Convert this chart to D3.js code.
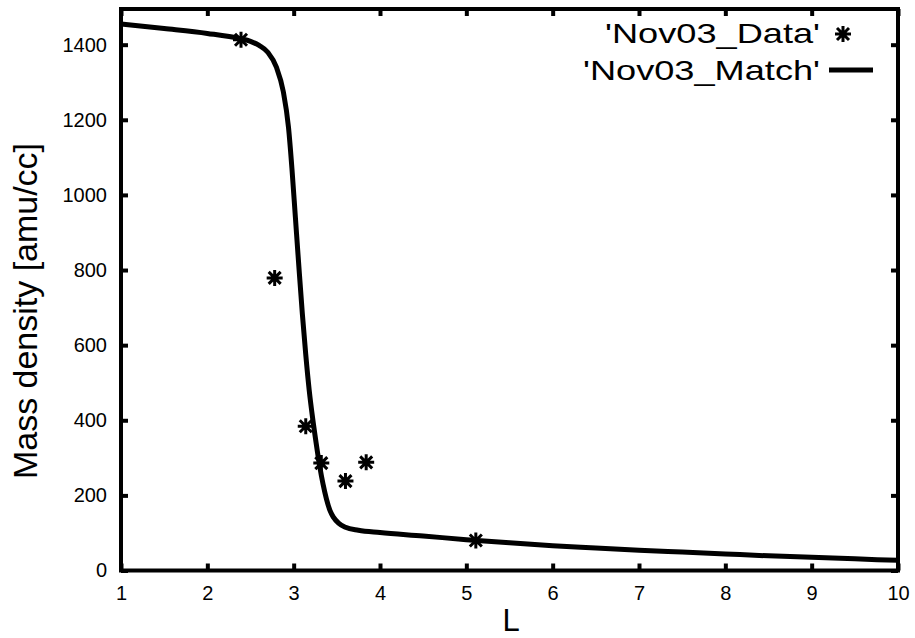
<!DOCTYPE html>
<html>
<head>
<meta charset="utf-8">
<script src="https://cdn.jsdelivr.net/npm/d3@7"></script>
<style>
  html, body { margin: 0; padding: 0; background: #fff; }
  svg { display: block; }
  text { font-family: "Liberation Sans", Arial, Helvetica, sans-serif; fill: #000; }
</style>
</head>
<body>
<svg id="chart" width="915" height="638"></svg>
<script>
// Measured data points (L, mass density)
const dataL = [2.39, 2.78, 3.14, 3.32, 3.60, 3.84, 5.11];
const dataRho = [1413, 779, 384, 286, 238, 288, 80];

// Model curve samples (L, mass density)
const matchL = [1.0, 1.5, 2.0, 2.38, 2.5, 2.6, 2.7, 2.8, 2.88, 2.94, 2.98, 3.02, 3.06, 3.1, 3.14, 3.18, 3.22, 3.26, 3.3, 3.34, 3.38, 3.42, 3.46, 3.52, 3.6, 3.75, 4.0, 4.5, 5.0, 5.5, 6.0, 6.5, 7.0, 7.5, 8.0, 8.5, 9.0, 9.5, 10.0];
const matchRho = [1455, 1443, 1430, 1416, 1409, 1398, 1380, 1340, 1275, 1180, 1070, 940, 810, 685, 575, 480, 405, 340, 280, 230, 190, 160, 142, 126, 115, 107, 101, 92, 82, 74, 66, 60, 54, 49, 44, 39, 35, 31, 27];

// Axis ticks
const xTicks = [1, 2, 3, 4, 5, 6, 7, 8, 9, 10];
const yTicks = [0, 200, 400, 600, 800, 1000, 1200, 1400];

const legendLabels = ["'Nov03_Data'", "'Nov03_Match'"];

const svg = d3.select("#chart");
const plotLeft = 121, plotRight = 898, plotTop = 9, plotBottom = 570.5;

const x = d3.scaleLinear().domain([1, 10]).range([plotLeft, plotRight]);
const y = d3.scaleLinear().domain([0, 1495]).range([plotBottom, plotTop]);

function styleAxis(g, fs) {
  g.select(".domain").remove();
  g.selectAll(".tick line").attr("stroke", "#000").attr("stroke-width", 4);
  g.selectAll(".tick text").attr("font-size", fs).attr("fill", "#000")
    .style("font-family", "'Liberation Sans', Arial, sans-serif");
}

// Bottom axis with labels, ticks inward
svg.append("g").attr("transform", `translate(0,${plotBottom})`)
  .call(d3.axisBottom(x).tickValues(xTicks).tickSizeInner(-7).tickSizeOuter(0).tickPadding(15).tickFormat(d3.format("d")))
  .call(g => styleAxis(g, 20));

// Top axis, ticks only
svg.append("g").attr("transform", `translate(0,${plotTop})`)
  .call(d3.axisTop(x).tickValues(xTicks).tickSizeInner(-7).tickSizeOuter(0).tickFormat(""))
  .call(g => styleAxis(g, 20));

// Left axis with labels
svg.append("g").attr("transform", `translate(${plotLeft},0)`)
  .call(d3.axisLeft(y).tickValues(yTicks).tickSizeInner(-7).tickSizeOuter(0).tickPadding(14).tickFormat(d3.format("d")))
  .call(g => styleAxis(g, 20));

// Right axis, ticks only
svg.append("g").attr("transform", `translate(${plotRight},0)`)
  .call(d3.axisRight(y).tickValues(yTicks).tickSizeInner(-7).tickSizeOuter(0).tickFormat(""))
  .call(g => styleAxis(g, 20));

// Plot frame
svg.append("rect")
  .attr("x", plotLeft).attr("y", plotTop)
  .attr("width", plotRight - plotLeft).attr("height", plotBottom - plotTop)
  .attr("fill", "none").attr("stroke", "#000").attr("stroke-width", 4);

// Model curve
const line = d3.line().x(d => x(d[0])).y(d => y(d[1])).curve(d3.curveMonotoneX);
svg.append("path")
  .datum(matchL.map((l, i) => [l, matchRho[i]]))
  .attr("d", line)
  .attr("fill", "none").attr("stroke", "#000").attr("stroke-width", 5)
  .attr("stroke-linejoin", "round");

// Asterisk marker
function star(g, cx, cy) {
  const a = 8, b = 6;
  g.append("path")
    .attr("d", `M${cx - a},${cy}H${cx + a}M${cx},${cy - a}V${cy + a}M${cx - b},${cy - b}L${cx + b},${cy + b}M${cx - b},${cy + b}L${cx + b},${cy - b}`)
    .attr("stroke", "#000").attr("stroke-width", 3).attr("fill", "none");
}
const pts = svg.append("g");
dataL.forEach((l, i) => star(pts, x(l), y(dataRho[i])));

// Legend
const legend = svg.append("g");
legend.append("text").attr("x", 820).attr("y", 43).attr("text-anchor", "end")
  .attr("font-size", 28).attr("textLength", 215).attr("lengthAdjust", "spacingAndGlyphs")
  .text(legendLabels[0]);
star(legend, 843, 34);
legend.append("text").attr("x", 820).attr("y", 80).attr("text-anchor", "end")
  .attr("font-size", 28).attr("textLength", 237).attr("lengthAdjust", "spacingAndGlyphs")
  .text(legendLabels[1]);
legend.append("line").attr("x1", 829).attr("x2", 873).attr("y1", 70).attr("y2", 70)
  .attr("stroke", "#000").attr("stroke-width", 5);

// Axis titles
svg.append("text").attr("x", 511).attr("y", 631).attr("text-anchor", "middle")
  .attr("font-size", 31).text("L");
svg.append("text").attr("transform", "translate(37,311) rotate(-90)")
  .attr("text-anchor", "middle").attr("font-size", 33)
  .attr("textLength", 336).attr("lengthAdjust", "spacingAndGlyphs")
  .text("Mass density [amu/cc]");
</script>
</body>
</html>
